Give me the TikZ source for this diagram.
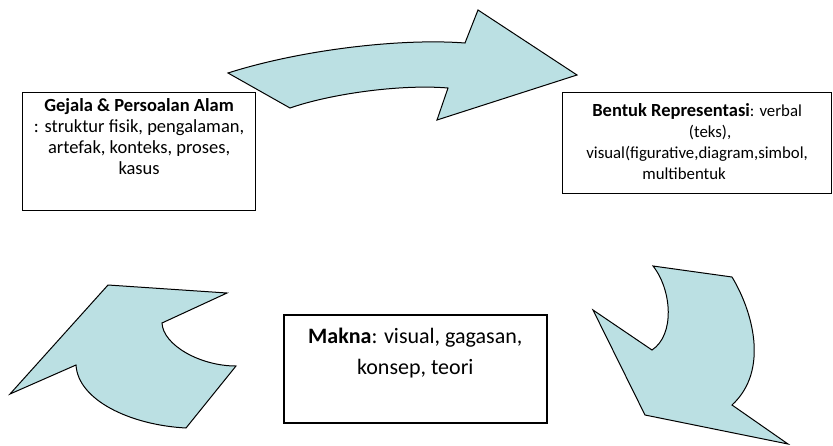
\documentclass[tikz,border=0pt]{standalone}
\usepackage{fontspec}
\setmainfont{Carlito}
\usepackage{tikz}
\usetikzlibrary{positioning}
\definecolor{iceblue}{RGB}{187,224,227}

\begin{document}
\begin{tikzpicture}[x=1pt,y=-1pt,
   box/.style={draw,line width=1.2pt,inner sep=0pt},
   boxtext/.style={anchor=north,align=center,inner sep=0pt},
   blockarrow/.style={draw,fill=iceblue,line width=1pt,line join=miter}]
   \useasboundingbox (0,0) rectangle (833,445);

   % boxes
   \node[box,minimum width=233pt,minimum height=118pt,anchor=north west] (b_gejala) at (22,92) {};
   \node[box,minimum width=269pt,minimum height=101pt,anchor=north west] (b_bentuk) at (562,92) {};
   \node[box,line width=1.6pt,minimum width=263pt,minimum height=108pt,anchor=north west] (b_makna) at (283,314) {};

   \node[boxtext,font=\fontsize{18.5}{21}\selectfont] (t_gejala) [below=6.5pt of b_gejala.north]
      {\textbf{Gejala \& Persoalan Alam}\\: struktur fisik, pengalaman,\\artefak, konteks, proses,\\kasus};
   \node[boxtext,font=\fontsize{16.8}{21}\selectfont] (t_bentuk) [below=11pt of b_bentuk.north]
      {{\fontsize{18.5}{21}\selectfont\textbf{Bentuk Representasi}}: verbal\\\hspace*{26pt}(teks),\\visual(figurative,diagram,simbol,\\multibentuk\hspace*{26pt}};
   \node[boxtext,font=\fontsize{22}{31}\selectfont] (t_makna) [below=14pt of b_makna.north]
      {\textbf{Makna}: visual, gagasan,\\konsep, teori};

   % block arrows
   \draw[blockarrow] (228,73) .. controls (300,50) and (400,38) .. (465,43) -- (478,10) -- (577,75)
      -- (437,120) -- (448,88) .. controls (400,84) and (330,94) .. (290,108) -- cycle;
   \draw[blockarrow] (653,266) -- (732,277) .. controls (752,310) and (770,370) .. (732,405)
      -- (788,444) -- (645,415) -- (593,310) -- (652,350) .. controls (675,335) and (672,290) .. (653,266) -- cycle;
   \draw[blockarrow] (108,285) -- (227,293) -- (162,323) .. controls (163,345) and (200,366) .. (236,366)
      -- (186,428) .. controls (130,425) and (78,400) .. (76,365) -- (10,394) -- cycle;
\end{tikzpicture}
\end{document}
